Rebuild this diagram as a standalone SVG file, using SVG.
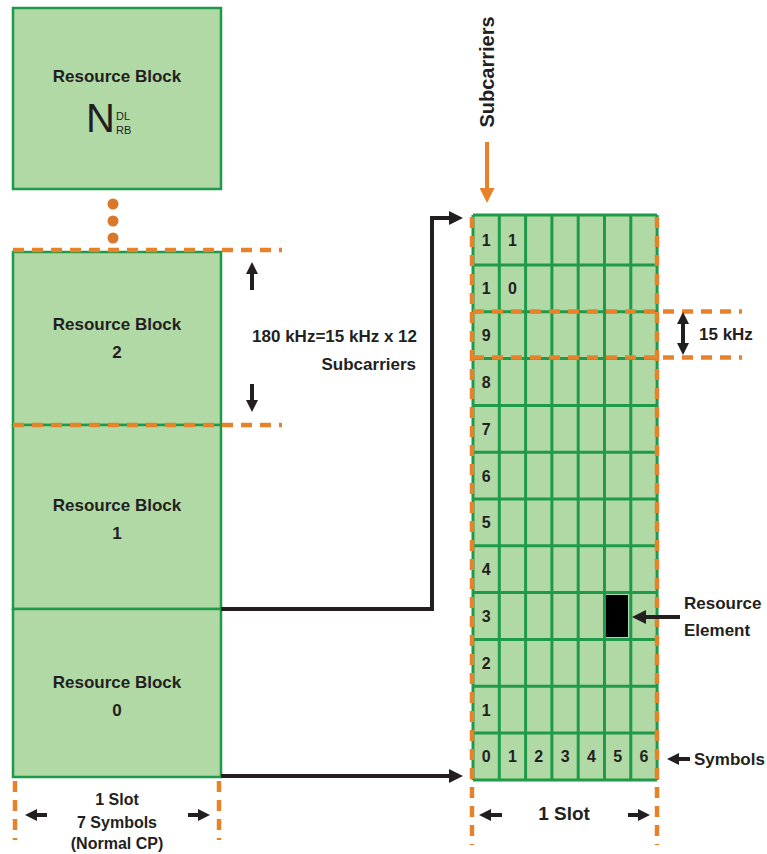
<svg xmlns="http://www.w3.org/2000/svg" width="767" height="854" viewBox="0 0 767 854">
<style>
  .blk{fill:#b1d9a6;stroke:#1e9a4a;stroke-width:2.5}
  .t{font-family:"Liberation Sans",Arial,sans-serif;font-weight:bold;fill:#231f20}
  .n{font-family:"Liberation Sans",Arial,sans-serif;font-weight:normal;fill:#231f20}
  .lbl{font-size:17px;text-anchor:middle}
  .num{font-size:16px;text-anchor:middle}
  .gl{stroke:#1e9a4a;stroke-width:3;fill:none}
  .od{stroke:#e8822a;stroke-width:4.5;stroke-dasharray:11 8;fill:none}
  .bk{stroke:#231f20;stroke-width:4;fill:none}
</style>
<defs>
  <marker id="ah" viewBox="0 0 10 10" refX="0" refY="5" markerWidth="14" markerHeight="14" markerUnits="userSpaceOnUse" orient="auto-start-reverse">
    <path d="M0,0 L10,5 L0,10 z" fill="#231f20"/>
  </marker>
  <marker id="ahs" viewBox="0 0 10 10" refX="0" refY="5" markerWidth="12" markerHeight="12" markerUnits="userSpaceOnUse" orient="auto-start-reverse">
    <path d="M0,0 L10,5 L0,10 z" fill="#231f20"/>
  </marker>
  <marker id="aho" viewBox="0 0 10 10" refX="0" refY="5" markerWidth="15" markerHeight="15" markerUnits="userSpaceOnUse" orient="auto">
    <path d="M0,0 L10,5 L0,10 z" fill="#e8822a"/>
  </marker>
</defs>

<g id="rb-n">
  <rect class="blk" x="13" y="8" width="208" height="181"/>
  <text class="t lbl" x="117" y="82">Resource Block</text>
  <text class="n" x="86" y="132" font-size="40">N</text>
  <text class="n" x="116" y="120" font-size="11">DL</text>
  <text class="n" x="116" y="134" font-size="11">RB</text>
</g>
<g id="dots" fill="#d9772a">
  <circle cx="113" cy="204" r="5.5"/>
  <circle cx="113" cy="221" r="5.5"/>
  <circle cx="113" cy="238" r="5.5"/>
</g>
<g id="rb-2">
  <rect class="blk" x="13" y="252" width="208" height="173"/>
  <text class="t lbl" x="117" y="330">Resource Block</text>
  <text class="t lbl" x="117" y="358">2</text>
</g>
<g id="rb-1">
  <rect class="blk" x="13" y="425" width="208" height="184"/>
  <text class="t lbl" x="117" y="511">Resource Block</text>
  <text class="t lbl" x="117" y="539">1</text>
</g>
<g id="rb-0">
  <rect class="blk" x="13" y="609" width="208" height="168"/>
  <text class="t lbl" x="117" y="688">Resource Block</text>
  <text class="t lbl" x="117" y="716">0</text>
</g>

<g id="grid">
  <rect x="473" y="215" width="184" height="565" fill="#b1d9a6"/>
  <path class="gl" d="M473,215 V780 M499.3,215 V780 M525.6,215 V780 M551.9,215 V780 M578.2,215 V780 M604.5,215 V780 M630.8,215 V780 M657.1,215 V780"/>
  <path class="gl" d="M473,215 H657 M473,265 H657 M473,311.8 H657 M473,358.6 H657 M473,405.4 H657 M473,452.2 H657 M473,499 H657 M473,545.8 H657 M473,592.6 H657 M473,639.4 H657 M473,686.2 H657 M473,733 H657 M473,780 H657"/>
  <g class="t num">
    <text x="486.2" y="246">1</text><text x="512.5" y="246">1</text>
    <text x="486.2" y="294.4">1</text><text x="512.5" y="294.4">0</text>
    <text x="486.2" y="341">9</text>
    <text x="486.2" y="388">8</text>
    <text x="486.2" y="435">7</text>
    <text x="486.2" y="481.6">6</text>
    <text x="486.2" y="528.4">5</text>
    <text x="486.2" y="575.2">4</text>
    <text x="486.2" y="622">3</text>
    <text x="486.2" y="668.8">2</text>
    <text x="486.2" y="715.6">1</text>
    <text x="486.2" y="762.4">0</text><text x="512.5" y="762.4">1</text><text x="538.8" y="762.4">2</text><text x="565.1" y="762.4">3</text><text x="591.4" y="762.4">4</text><text x="617.7" y="762.4">5</text><text x="644" y="762.4">6</text>
  </g>
  <rect id="re" x="606" y="595" width="22" height="42" fill="#000"/>
</g>

<g id="dashes">
  <path class="od" d="M13,250 H282"/>
  <path class="od" d="M13,425 H282"/>
  <path class="od" d="M473,311.5 H742"/>
  <path class="od" d="M473,357.5 H742"/>
  <path class="od" d="M472,217 V845" stroke-dasharray="12 8"/>
  <path class="od" d="M657,217 V845" stroke-dasharray="12 8"/>
  <path class="od" d="M15,781 V840" stroke-dasharray="10 8"/>
  <path class="od" d="M219,781 V840" stroke-dasharray="10 8"/>
</g>

<g id="connectors">
  <path class="bk" d="M221,609 H432 V218 H449" marker-end="url(#ah)"/>
  <path class="bk" d="M221,776 H449" marker-end="url(#ah)"/>
  <path class="bk" d="M680,617 H646" marker-end="url(#ah)"/>
  <path class="bk" d="M690,759 H679" marker-end="url(#ahs)"/>
  <path class="bk" d="M252,290 V274" marker-end="url(#ahs)"/>
  <path class="bk" d="M252,384 V400" marker-end="url(#ahs)"/>
  <path class="bk" stroke-width="3" d="M683,324 V343" marker-start="url(#ahs)" marker-end="url(#ahs)"/>
  <path class="bk" d="M47,815 H37" marker-end="url(#ahs)"/>
  <path class="bk" d="M188,815 H198" marker-end="url(#ahs)"/>
  <path class="bk" d="M502,815 H491" marker-end="url(#ahs)"/>
  <path class="bk" d="M628,815 H638" marker-end="url(#ahs)"/>
  <path d="M487,142 V188" stroke="#e8822a" stroke-width="4" fill="none" marker-end="url(#aho)"/>
</g>

<g id="labels">
  <text class="t" x="494" y="72" font-size="20" text-anchor="middle" transform="rotate(-90 494 72)">Subcarriers</text>
  <text class="t" x="417" y="342" font-size="17" text-anchor="end">180 kHz=15 kHz x 12</text>
  <text class="t" x="416" y="370" font-size="17" text-anchor="end">Subcarriers</text>
  <text class="t" x="699" y="340" font-size="17">15 kHz</text>
  <text class="t" x="684" y="609" font-size="17">Resource</text>
  <text class="t" x="684" y="636" font-size="17">Element</text>
  <text class="t" x="694" y="765" font-size="17">Symbols</text>
  <text class="t" x="564" y="820" font-size="19" text-anchor="middle">1 Slot</text>
  <text class="t" x="117" y="805" font-size="16" text-anchor="middle">1 Slot</text>
  <text class="t" x="117" y="828" font-size="16" text-anchor="middle">7 Symbols</text>
  <text class="t" x="117" y="849" font-size="16" text-anchor="middle">(Normal CP)</text>
</g>
</svg>
